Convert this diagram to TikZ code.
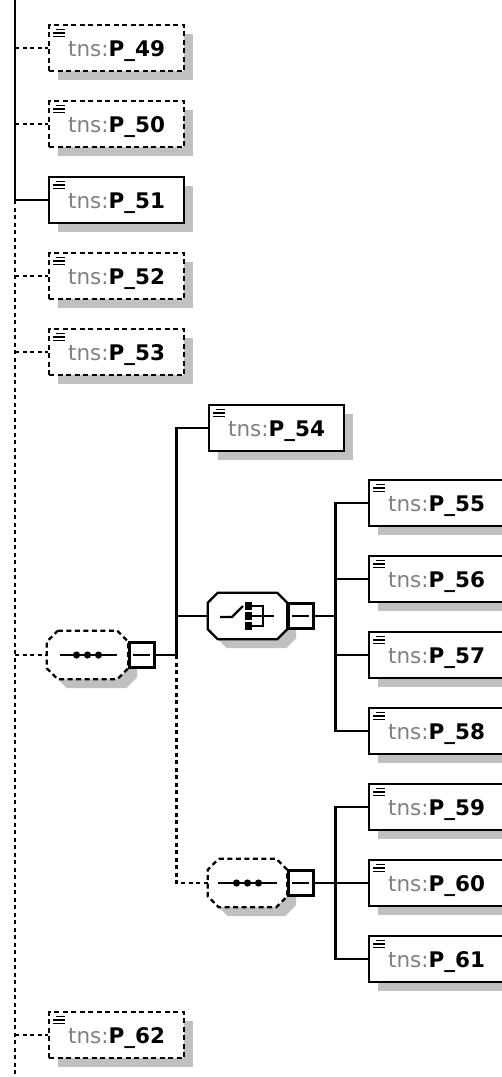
\documentclass[tikz,border=0pt]{standalone}
\usepackage{fontspec}
\setmainfont{DejaVu Sans}
\usetikzlibrary{shadows,calc}
\definecolor{shadowgray}{RGB}{192,192,192}
\definecolor{tnsgray}{RGB}{128,128,128}
\newcommand\tns[1]{\textcolor{tnsgray}{tns:}\textbf{P\_#1}}
\newcommand\xoct[3]{\path[#3] ([xshift=#2]#1.north west) -- ([xshift=-#2]#1.north east) -- ([yshift=-#2]#1.north east) -- ([yshift=#2]#1.south east) -- ([xshift=-#2]#1.south east) -- ([xshift=#2]#1.south west) -- ([yshift=#2]#1.south west) -- ([yshift=-#2]#1.north west) -- cycle;}
\tikzset{
 conn/.style={line width=2.3pt},
 dconn/.style={line width=2.3pt, dash pattern=on 4pt off 3.5pt},
 elem/.style={draw, line width=2.3pt, fill=white, minimum width=135pt, minimum height=46pt,
   inner sep=0pt, anchor=west, text height=16pt, text depth=0pt,
   font=\fontsize{21.5}{25}\selectfont,
   drop shadow={shadow xshift=9pt, shadow yshift=-9pt, fill=shadowgray, opacity=1},
   path picture={\draw[line width=1.8pt, solid]
     ([shift={(7pt,-4.5pt)}]path picture bounding box.north west) -- +(9pt,0pt)
     ([shift={(4pt,-8pt)}]path picture bounding box.north west) -- +(12pt,0pt)
     ([shift={(4pt,-11.5pt)}]path picture bounding box.north west) -- +(12pt,0pt);}},
 optelem/.style={elem, dash pattern=on 5pt off 3.5pt},
 minusbox/.style={draw, line width=2.3pt, fill=white, minimum width=25pt, minimum height=25pt,
   inner sep=0pt, anchor=west,
   path picture={\draw[line width=2.3pt] ([xshift=4pt]path picture bounding box.west) -- ([xshift=-4pt]path picture bounding box.east);}},
 hold/.style={inner sep=0pt, draw=none},
 icon/.style={line width=2.3pt},
}
\begin{document}
\begin{tikzpicture}[x=1pt,y=-1pt]
\useasboundingbox (0,0) rectangle (501,1077);
% invisible holders for octagon shapes
\node[hold, minimum width=81pt, minimum height=48pt] (s1) at (87.5,655) {};
\node[hold, minimum width=79pt, minimum height=46pt] (ch) at (247.5,616) {};
\node[hold, minimum width=79pt, minimum height=48pt] (s2) at (247.5,883) {};
% shadows of octagons
\begin{scope}[transform canvas={shift={(9pt,-9pt)}}]
\xoct{s1}{11pt}{fill=shadowgray}
\xoct{ch}{10pt}{fill=shadowgray}
\xoct{s2}{11pt}{fill=shadowgray}
\end{scope}
% octagons
\xoct{s1}{11pt}{fill=white, draw, line width=2.3pt, dash pattern=on 5pt off 3.5pt}
\xoct{ch}{10pt}{fill=white, draw, line width=2.3pt}
\xoct{s2}{11pt}{fill=white, draw, line width=2.3pt, dash pattern=on 5pt off 3.5pt}
% sequence icons
\draw[icon] ([xshift=-27.5pt]s1.center) -- ([xshift=29.5pt]s1.center);
\fill ([xshift=-11pt]s1.center) circle (3.6pt) (s1.center) circle (3.6pt) ([xshift=11pt]s1.center) circle (3.6pt);
\draw[icon] ([xshift=-29.5pt]s2.center) -- ([xshift=29.5pt]s2.center);
\fill ([xshift=-11pt]s2.center) circle (3.6pt) (s2.center) circle (3.6pt) ([xshift=11pt]s2.center) circle (3.6pt);
% choice icon
\draw[icon] ($(ch.center)+(-27.5,1)$) -- ++(12,0) -- ++(11,-11);
\fill ($(ch.center)+(1,-10)$) +(-3.6,-3.6) rectangle +(3.6,3.6);
\fill ($(ch.center)+(1,0)$) +(-3.6,-3.6) rectangle +(3.6,3.6);
\fill ($(ch.center)+(1,10)$) +(-3.6,-3.6) rectangle +(3.6,3.6);
\draw[icon] ($(ch.center)+(1,-10)$) -| ($(ch.center)+(15.5,10)$) -- ($(ch.center)+(1,10)$);
\draw[icon] ($(ch.center)+(1,0)$) -- ++(25,0);
% minus boxes
\node[minusbox] (m1) at (s1.east) {};
\node[minusbox] (m2) at (ch.east) {};
\node[minusbox] (m3) at (s2.east) {};
% element boxes
\node[optelem] (p49) at (48,48) {\tns{49}};
\node[optelem] (p50) at (48,124) {\tns{50}};
\node[elem] (p51) at (48,200) {\tns{51}};
\node[optelem] (p52) at (48,276) {\tns{52}};
\node[optelem] (p53) at (48,352) {\tns{53}};
\node[optelem] (p62) at (48,1035) {\tns{62}};
\node[elem] (p54) at (208,428) {\tns{54}};
\node[elem] (p55) at (368,503) {\tns{55}};
\node[elem] (p56) at (368,579) {\tns{56}};
\node[elem] (p57) at (368,655) {\tns{57}};
\node[elem] (p58) at (368,731) {\tns{58}};
\node[elem] (p59) at (368,807) {\tns{59}};
\node[elem] (p60) at (368,883) {\tns{60}};
\node[elem] (p61) at (368,959) {\tns{61}};
% trunk
\coordinate (trunk) at (15,0);
\coordinate (trunkend) at (15,1077);
\coordinate (j51) at (p51.west -| trunk);
\draw[conn] (trunk) -- (j51);
\draw[dconn] (j51) -- (trunkend);
\draw[conn] (j51) -- (p51.west);
\foreach \n in {p49,p50,p52,p53,p62,s1} \draw[dconn] (\n.west -| trunk) -- (\n.west);
% second level
\coordinate (b1) at ($(m1.east)+(21,0)$);
\draw[conn] (m1.east) -- (b1);
\draw[conn] (p54.west) -| (b1);
\draw[conn] (ch.west) -- (ch.west -| b1);
\draw[dconn] (b1) |- (s2.west);
% choice children
\coordinate (b2) at ($(m2.east)+(21,0)$);
\draw[conn] (m2.east) -- (b2);
\draw[conn] (p55.west) -| (b2);
\draw[conn] (p58.west) -| (b2);
\draw[conn] (p56.west) -- (p56.west -| b2);
\draw[conn] (p57.west) -- (p57.west -| b2);
% sequence children
\coordinate (b3) at ($(m3.east)+(21,0)$);
\draw[conn] (m3.east) -- (p60.west);
\draw[conn] (p59.west) -| (b3) |- (p61.west);
\end{tikzpicture}
\end{document}
